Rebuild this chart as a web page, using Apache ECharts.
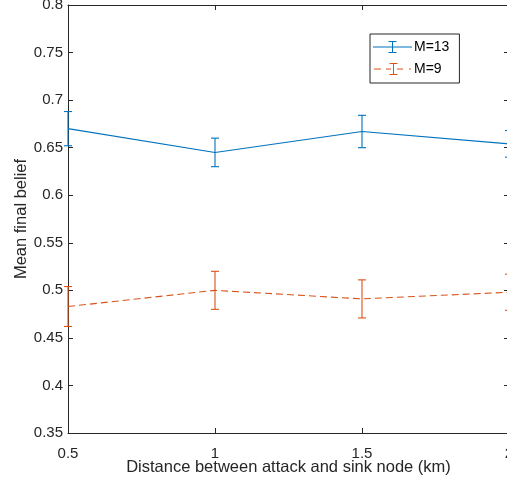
<!DOCTYPE html>
<html>
<head>
<meta charset="utf-8">
<script src="https://cdn.jsdelivr.net/npm/echarts@6/dist/echarts.min.js"></script>
<style>
  html, body { margin: 0; padding: 0; background: #fff; overflow: hidden; width: 507px; height: 479px; }
  #frame { position: relative; width: 507px; height: 479px; overflow: hidden; }
  #chart { position: absolute; left: 0; top: 0; width: 512px; height: 479px; }
</style>
</head>
<body>
<div id="frame"><div id="chart"></div></div>
<script>
// Distance between attack and sink node (km)
const distances = [0.5, 1, 1.5, 2];
// Mean final belief and error half-widths for each M
const meanM13 = [0.670, 0.645, 0.667, 0.654];
const errM13 = [0.018, 0.015, 0.017, 0.014];
const meanM9 = [0.483, 0.500, 0.491, 0.498];
const errM9 = [0.021, 0.020, 0.020, 0.019];
const seriesNames = ['M=13', 'M=9'];

const blue = '#0072BD';
const orange = '#D95319';
const axisColor = '#262626';
const font = 'Liberation Sans, Arial, Helvetica, sans-serif';

function pairs(xs, ys) { return xs.map((x, i) => [x, ys[i]]); }
function triples(xs, ys, es) { return xs.map((x, i) => [x, ys[i], es[i]]); }

// Vertical error bar with caps
function renderErrorBar(params, api) {
  const x = api.value(0), m = api.value(1), e = api.value(2);
  const top = api.coord([x, m + e]);
  const bot = api.coord([x, m - e]);
  const hw = 4;
  const style = { stroke: api.visual('color'), lineWidth: 1.1 };
  return {
    type: 'group',
    children: [
      { type: 'line', shape: { x1: top[0], y1: top[1], x2: bot[0], y2: bot[1] }, style },
      { type: 'line', shape: { x1: top[0] - hw, y1: top[1], x2: top[0] + hw, y2: top[1] }, style },
      { type: 'line', shape: { x1: bot[0] - hw, y1: bot[1], x2: bot[0] + hw, y2: bot[1] }, style }
    ]
  };
}

const tickFmt = v => String(+v.toFixed(2));

// Legend glyphs: line with an error-bar marker in the middle
const iconSolid = 'path://M0,5.5H39V6.5H0Z M19,0H20V12H19Z M15.5,0H23.5V1H15.5Z M15.5,11H23.5V12H15.5Z';
const iconDashed = 'path://M0,5.5H7V6.5H0Z M12,5.5H17V6.5H12Z M23,5.5H29V6.5H23Z M35,5.5H37V6.5H35Z M19,0H20V12H19Z M15.5,0H23.5V1H15.5Z M15.5,11H23.5V12H15.5Z';

function baseAxis() {
  return {
    type: 'value',
    axisLine: { show: true, onZero: false, lineStyle: { color: axisColor, width: 1 } },
    axisTick: { show: true, inside: true, length: 5, lineStyle: { color: axisColor, width: 1 } },
    splitLine: { show: false }
  };
}

const chart = echarts.init(document.getElementById('chart'), null, { renderer: 'canvas' });
chart.setOption({
  animation: false,
  backgroundColor: '#fff',
  grid: { left: 68, right: 3, top: 5, bottom: 46, containLabel: false, outerBoundsMode: 'none' },
  legend: {
    left: 370, top: 34,
    orient: 'vertical',
    backgroundColor: '#fff',
    borderColor: axisColor, borderWidth: 1,
    padding: [6, 10, 7, 3],
    itemWidth: 39, itemHeight: 12, itemGap: 8,
    itemStyle: { borderWidth: 0 },
    textStyle: { fontFamily: font, fontSize: 14, color: '#000', padding: [0, 0, 0, -3] },
    data: [
      { name: seriesNames[0], icon: iconSolid },
      { name: seriesNames[1], icon: iconDashed }
    ]
  },
  xAxis: [
    Object.assign(baseAxis(), {
      position: 'bottom', min: 0.5, max: 2, interval: 0.5,
      axisLabel: { show: true, fontFamily: font, fontSize: 15, color: axisColor, margin: 13,
                   showMinLabel: true, showMaxLabel: true, formatter: tickFmt },
      name: 'Distance between attack and sink node (km)',
      nameLocation: 'middle', nameGap: 26, nameMoveOverlap: false,
      nameTextStyle: { fontFamily: font, fontSize: 16.5, color: axisColor }
    }),
    Object.assign(baseAxis(), {
      position: 'top', min: 0.5, max: 2, interval: 0.5,
      axisLabel: { show: false }
    })
  ],
  yAxis: [
    Object.assign(baseAxis(), {
      position: 'left', min: 0.35, max: 0.8, interval: 0.05,
      axisLabel: { show: true, fontFamily: font, fontSize: 15, color: axisColor, margin: 5,
                   showMinLabel: true, showMaxLabel: true, formatter: tickFmt },
      name: 'Mean final belief',
      nameLocation: 'middle', nameGap: 38, nameRotate: 90, nameMoveOverlap: false,
      nameTextStyle: { fontFamily: font, fontSize: 16.5, color: axisColor }
    }),
    Object.assign(baseAxis(), {
      position: 'right', min: 0.35, max: 0.8, interval: 0.05,
      axisLabel: { show: false }
    })
  ],
  series: [
    {
      name: seriesNames[0], type: 'line', data: pairs(distances, meanM13),
      showSymbol: false, symbol: 'none', color: blue,
      lineStyle: { color: blue, width: 1.1, type: 'solid' }, z: 3
    },
    {
      name: seriesNames[1], type: 'line', data: pairs(distances, meanM9),
      showSymbol: false, symbol: 'none', color: orange,
      lineStyle: { color: orange, width: 1.1, type: [7, 4] }, z: 3
    },
    {
      name: seriesNames[0] + ' error', type: 'custom', renderItem: renderErrorBar,
      data: triples(distances, meanM13, errM13), itemStyle: { color: blue }, clip: false, z: 3
    },
    {
      name: seriesNames[1] + ' error', type: 'custom', renderItem: renderErrorBar,
      data: triples(distances, meanM9, errM9), itemStyle: { color: orange }, clip: false, z: 3
    }
  ]
});
</script>
</body>
</html>
